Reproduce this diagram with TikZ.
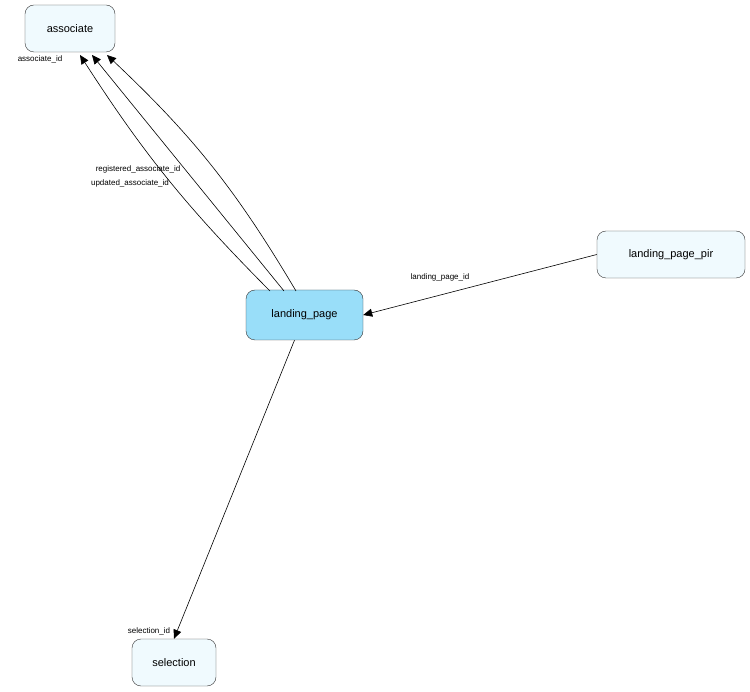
\documentclass[tikz,border=0pt]{standalone}
\usepackage{fontspec}
\setmainfont{Liberation Sans}
\usetikzlibrary{positioning,arrows.meta}

\begin{document}
\begin{tikzpicture}[x=1pt,y=-1pt]
	\tikzset{table/.style={rectangle, rounded corners=9pt, draw=black!80, fill=cyan!6, minimum height=47pt, font=\fontsize{11}{13}\selectfont, inner xsep=8pt}}
	\tikzset{connect/.style={-{Triangle[length=9pt,width=8pt]}, semithick}}
	\tikzset{lbl/.style={font=\fontsize{8}{9}\selectfont, inner sep=1pt}}
	\useasboundingbox (0,0) rectangle (750,692);
	\node[table, minimum width=90pt] (associate) at (70,28.5) {associate};
	\node[table, minimum width=117pt, minimum height=50pt, fill=cyan!40] (landing) at (304.5,315) {landing\_page};
	\node[table, minimum width=148pt] (pir) at (671,254.5) {landing\_page\_pir};
	\node[table, minimum width=84pt] (selection) at (174,662.5) {selection};
	\coordinate (a1) at (80,55);
	\coordinate (a2) at (92,55);
	\coordinate (a3) at (107,55);
	\coordinate (l1) at (270,291);
	\coordinate (l2) at (284,291);
	\coordinate (l3) at (296,291);
	\path (l1) edge [connect, bend left=6] (a1)
	(l2) edge [connect] (a2)
	(l3) edge [connect, bend right=8] (a3)
	(pir.west) edge [connect] (landing.east)
	(landing.south) ++(-10,0) coordinate (ls) (ls) edge [connect] (selection.north);
	\node[lbl] (t1) at (138,169.5) {registered\_associate\_id};
	\node[lbl] (t2) at (130,183) {updated\_associate\_id};
	\node[lbl] (t3) at (40,59) {associate\_id};
	\node[lbl] (t4) at (440,277) {landing\_page\_id};
	\node[lbl] (t5) at (149,631) {selection\_id};
\end{tikzpicture}
\end{document}
